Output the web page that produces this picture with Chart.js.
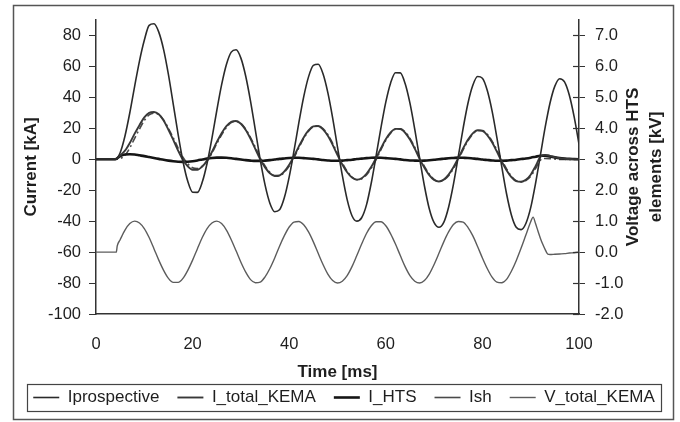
<!DOCTYPE html>
<html>
<head>
<meta charset="utf-8">
<script src="https://cdn.jsdelivr.net/npm/chart.js@4/dist/chart.umd.min.js"></script>
<style>
  body { margin: 0; background: #fff; }
</style>
</head>
<body>
<canvas id="myChart" width="680" height="422"></canvas>
<script>
// current traces are sampled every 1 ms, 0..100 ms
const times = Array.from({length: 101}, (_, i) => i);

// currents in kA
const iProspective = [
  0, 0, 0, 0, 0,
  4.2, 15.0, 30.0, 47.1, 63.4,
  76.8, 86.5, 87.5, 82.1, 70.8,
  54.6, 35.5, 16.0, -1.3, -14.3,
  -21.3, -21.4, -14.8, -2.6, 13.5,
  31.3, 48.0, 61.2, 69.2, 70.7,
  65.3, 53.6, 37.4, 18.6, -0.3,
  -16.6, -28.4, -33.9, -32.7, -24.8,
  -11.4, 5.5, 23.6, 40.3, 53.2,
  60.6, 61.3, 55.2, 43.0, 26.6,
  7.8, -10.5, -26.1, -36.5, -40.0,
  -37.8, -29.5, -15.2, 2.3, 20.4,
  36.9, 49.3, 55.9, 55.8, 48.9,
  36.2, 19.3, 0.6, -17.3, -32.0,
  -41.0, -44.0, -40.8, -31.0, -16.3,
  1.6, 19.8, 36.0, 47.6, 53.4,
  52.3, 44.5, 31.2, 13.9, -4.7,
  -22.3, -36.0, -44.0, -45.5, -41.5,
  -31.3, -15.7, 2.5, 20.7, 36.3,
  47.2, 52.0, 49.9, 41.3, 27.3,
  9.8
];

const iTotalKema = [
  0, 0, 0, 0, 0,
  2.5, 5.5, 10.5, 16.5, 22.0,
  27.0, 30.0, 30.5, 29.0, 25.0,
  19.0, 12.5, 5.6, -0.4, -4.6,
  -6.8, -6.8, -4.7, -0.8, 4.7,
  11.0, 16.8, 21.4, 24.2, 24.7,
  22.9, 18.8, 13.1, 6.5, -0.1,
  -5.3, -9.1, -10.8, -10.5, -7.9,
  -3.6, 1.9, 8.3, 14.1, 18.6,
  21.2, 21.5, 19.3, 15.1, 9.3,
  2.7, -3.4, -8.4, -11.8, -13.2,
  -12.3, -9.4, -4.9, 0.8, 7.1,
  12.9, 17.3, 19.6, 19.5, 17.1,
  12.7, 6.8, 0.2, -5.5, -10.3,
  -13.4, -14.4, -13.2, -10.0, -5.2,
  0.6, 6.9, 12.6, 16.7, 18.7,
  18.3, 15.6, 10.9, 4.9, -1.5,
  -7.1, -11.6, -14.2, -14.6, -13.3,
  -10.0, -4.5, 1.5, 2.8, 2.2,
  1.3, 0.6, 0.3, 0.1, 0.0,
  0.0
];

const iHts = [
  0, 0, 0, 0, 0,
  2.0, 3.0, 3.2, 3.0, 2.5,
  2.0, 1.4, 0.8, 0.2, -0.4,
  -0.9, -1.3, -1.6, -1.7, -1.6,
  -1.3, -0.8, -0.2, 0.4, 0.8,
  1.0, 1.0, 0.9, 0.6, 0.2,
  -0.2, -0.6, -0.9, -1.1, -1.1,
  -0.9, -0.6, -0.2, 0.2, 0.5,
  0.8, 0.9, 0.9, 0.7, 0.5,
  0.2, -0.1, -0.5, -0.8, -1.0,
  -1.0, -0.9, -0.6, -0.3, 0.1,
  0.4, 0.7, 0.9, 1.0, 0.9,
  0.7, 0.5, 0.2, -0.1, -0.5,
  -0.8, -0.9, -1.0, -0.9, -0.7,
  -0.4, 0.0, 0.3, 0.6, 0.8,
  1.0, 0.9, 0.8, 0.5, 0.2,
  -0.2, -0.5, -0.8, -1.0, -1.0,
  -0.9, -0.6, -0.3, 0.1, 0.5,
  1.0, 1.6, 2.2, 2.3, 1.8,
  1.2, 0.7, 0.4, 0.2, 0.1,
  0.0
];

const iSh = [
  0, 0, 0, 0, 0,
  0.5, 2.5, 7.3, 13.5, 19.5,
  25.0, 28.6, 29.7, 28.8, 25.4,
  19.9, 13.8, 7.2, 1.3, -3.0,
  -5.5, -6.0, -4.5, -1.2, 3.9,
  10.0, 15.8, 20.5, 23.6, 24.5,
  23.1, 19.4, 14.0, 7.6, 1.0,
  -4.4, -8.5, -10.6, -10.7, -8.4,
  -4.4, 1.0, 7.4, 13.4, 18.1,
  21.0, 21.6, 19.8, 15.9, 10.3,
  3.7, -2.5, -7.8, -11.5, -13.3,
  -12.7, -10.1, -5.8, -0.2, 6.2,
  12.2, 16.8, 19.4, 19.6, 17.6,
  13.5, 7.7, 1.2, -4.6, -9.6,
  -13.0, -14.4, -13.5, -10.6, -6.0,
  -0.4, 6.0, 11.8, 16.2, 18.5,
  18.5, 16.1, 11.7, 5.9, -0.5,
  -6.2, -11.0, -13.9, -14.7, -13.8,
  -11.0, -6.1, -0.7, 0.5, 0.4,
  0.1, -0.1, -0.1, -0.1, -0.1,
  0.0
];

// voltage trace (kV), denser around the switch-on and the final spike
const vTimes = [
  0, 4, 4.2, 4.4, 5, 6, 7, 8, 9,
  10, 11, 12, 13, 14, 15, 16, 17, 18, 19,
  20, 21, 22, 23, 24, 25, 26, 27, 28, 29,
  30, 31, 32, 33, 34, 35, 36, 37, 38, 39,
  40, 41, 42, 43, 44, 45, 46, 47, 48, 49,
  50, 51, 52, 53, 54, 55, 56, 57, 58, 59,
  60, 61, 62, 63, 64, 65, 66, 67, 68, 69,
  70, 71, 72, 73, 74, 75, 76, 77, 78, 79,
  80, 81, 82, 83, 84, 85, 86, 87, 88, 89,
  90, 90.5, 91, 91.5, 92, 92.5, 93, 93.5,
  94, 95, 96, 97, 98, 99, 100
];
const vTotalKema = [
  0, 0, 0, 0.2, 0.40, 0.71, 0.92, 1.00, 0.94,
  0.76, 0.47, 0.11, -0.26, -0.59, -0.85, -0.98, -0.98, -0.85, -0.59,
  -0.26, 0.11, 0.47, 0.76, 0.94, 1.00, 0.92, 0.71, 0.40, 0.04,
  -0.33, -0.65, -0.89, -0.99, -0.97, -0.80, -0.53, -0.19, 0.19, 0.53,
  0.81, 0.97, 0.99, 0.88, 0.65, 0.33, -0.04, -0.40, -0.71, -0.92,
  -1.00, -0.94, -0.76, -0.47, -0.11, 0.26, 0.60, 0.85, 0.98, 0.98,
  0.85, 0.59, 0.26, -0.11, -0.47, -0.76, -0.94, -1.00, -0.92, -0.71,
  -0.40, -0.04, 0.33, 0.65, 0.89, 0.99, 0.97, 0.80, 0.53, 0.18,
  -0.19, -0.53, -0.81, -0.97, -0.99, -0.88, -0.62, -0.28, 0.12, 0.55,
  0.98, 1.13, 0.92, 0.68, 0.45, 0.25, 0.08, -0.06,
  -0.08, -0.07, -0.06, -0.05, -0.03, -0.02, 0.0
];

const timeTicks = [0, 20, 40, 60, 80, 100];
const currentTicks = [-100, -80, -60, -40, -20, 0, 20, 40, 60, 80];
const voltageTicks = [-2, -1, 0, 1, 2, 3, 4, 5, 6, 7];

const FONT = 'Liberation Sans, Arial, sans-serif';
const INK = '#1e1e1e';

function toPoints(xs, ys) {
  return xs.map((x, i) => ({x: x, y: ys[i]}));
}

// extra drawing: inner half of the voltage ticks, voltage axis title,
// the box round the legend and the outer frame
const decorations = {
  id: 'decorations',
  afterDraw(chart) {
    const ctx = chart.ctx;
    const y1 = chart.scales.y1;
    const area = chart.chartArea;
    ctx.save();

    ctx.strokeStyle = '#333';
    ctx.lineWidth = 1.2;
    y1.ticks.forEach(t => {
      const py = Math.round(y1.getPixelForValue(t.value)) + 0.5;
      ctx.beginPath();
      ctx.moveTo(y1.left - 6, py);
      ctx.lineTo(y1.left, py);
      ctx.stroke();
    });

    ctx.save();
    ctx.translate(y1.left + 54, (area.top + area.bottom) / 2);
    ctx.rotate(-Math.PI / 2);
    ctx.fillStyle = INK;
    ctx.font = 'bold 17px ' + FONT;
    ctx.textAlign = 'center';
    ctx.textBaseline = 'middle';
    ctx.fillText('Voltage across HTS', 0, 0);
    ctx.fillText('elements [kV]', 0, 23);
    ctx.restore();

    const boxes = chart.legend.legendHitBoxes;
    if (boxes && boxes.length) {
      const left = Math.min(...boxes.map(b => b.left)) - 6;
      const right = Math.max(...boxes.map(b => b.left + b.width)) + 6;
      const top = boxes[0].top - 5;
      const h = boxes[0].height + 10;
      ctx.strokeStyle = '#444';
      ctx.lineWidth = 1.2;
      ctx.strokeRect(Math.round(left) + 0.5, Math.round(top) + 0.5, Math.round(right - left), Math.round(h));
    }

    ctx.strokeStyle = '#555';
    ctx.lineWidth = 1.5;
    ctx.strokeRect(13.5, 5.5, 660, 414);
    ctx.restore();
  }
};

const data = {
  datasets: [
    {
      label: 'Iprospective',
      data: toPoints(times, iProspective),
      borderColor: '#2a2a2a',
      borderWidth: 1.6,
      yAxisID: 'y'
    },
    {
      label: 'I_total_KEMA',
      data: toPoints(times, iTotalKema),
      borderColor: '#383838',
      borderWidth: 1.9,
      yAxisID: 'y'
    },
    {
      label: 'I_HTS',
      data: toPoints(times, iHts),
      borderColor: '#151515',
      borderWidth: 2.6,
      yAxisID: 'y'
    },
    {
      label: 'Ish',
      data: toPoints(times, iSh),
      borderColor: '#4a4a4a',
      borderWidth: 1.6,
      borderDash: [7, 3, 2, 3],
      yAxisID: 'y'
    },
    {
      label: 'V_total_KEMA',
      data: toPoints(vTimes, vTotalKema),
      borderColor: '#5c5c5c',
      borderWidth: 1.4,
      yAxisID: 'y1'
    }
  ]
};

const tickFont = {family: FONT, size: 16.5};
const titleFont = {family: FONT, size: 17, weight: 'bold'};

const config = {
  type: 'line',
  data: data,
  options: {
    responsive: false,
    animation: false,
    layout: {padding: {top: 10, left: 14, right: 6, bottom: 6}},
    elements: {
      point: {radius: 0},
      line: {cubicInterpolationMode: 'monotone'}
    },
    plugins: {
      legend: {
        position: 'bottom',
        labels: {
          usePointStyle: true,
          pointStyle: 'line',
          pointStyleWidth: 26,
          padding: 18,
          color: INK,
          font: {family: FONT, size: 17}
        }
      },
      tooltip: {enabled: false}
    },
    scales: {
      x: {
        type: 'linear',
        min: 0,
        max: 100,
        afterBuildTicks: s => { s.ticks = timeTicks.map(v => ({value: v})); },
        afterFit: s => { s.height = 57; },
        grid: {drawOnChartArea: false, drawTicks: false},
        border: {color: '#333', width: 1.5},
        ticks: {padding: 21, color: INK, font: tickFont, maxRotation: 0},
        title: {display: true, text: 'Time [ms]', color: INK, font: titleFont, padding: {top: 0, bottom: -12}}
      },
      y: {
        position: 'left',
        min: -100,
        max: 90,
        afterBuildTicks: s => { s.ticks = currentTicks.map(v => ({value: v})); },
        afterFit: s => { s.width = 82; },
        grid: {drawOnChartArea: false, tickLength: 7, color: '#333'},
        border: {color: '#333', width: 1.5},
        ticks: {padding: 8, color: INK, font: tickFont},
        title: {display: true, text: 'Current [kA]', color: INK, font: titleFont, padding: {top: 7, bottom: 0}}
      },
      y1: {
        position: 'right',
        min: -2,
        max: 7.5,
        afterBuildTicks: s => { s.ticks = voltageTicks.map(v => ({value: v})); },
        afterFit: s => { s.width = 95; },
        grid: {drawOnChartArea: false, tickLength: 6, color: '#333'},
        border: {color: '#333', width: 1.5},
        ticks: {padding: 10, color: INK, font: tickFont, callback: v => v.toFixed(1)}
      }
    }
  },
  plugins: [decorations]
};

const myChart = new Chart(document.getElementById('myChart'), config);
</script>
</body>
</html>
